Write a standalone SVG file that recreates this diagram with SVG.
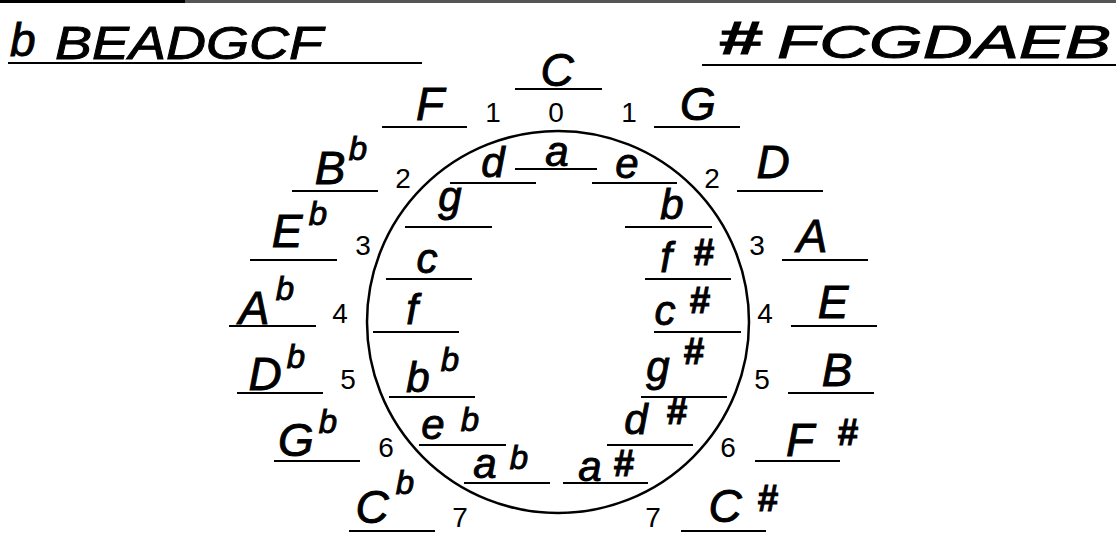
<svg xmlns="http://www.w3.org/2000/svg" width="1116" height="534" viewBox="0 0 1116 534">
<style>
.ul{stroke:#000;stroke-width:2;fill:none}
.hw{font-family:"Liberation Sans",Arial,sans-serif;font-style:italic;fill:#000;stroke:#000;stroke-width:0.9;text-anchor:middle}
.cap{font-size:46px}
.low{font-size:42px}
.sup{font-size:33px}
.sh{font-size:37px;font-weight:bold;font-style:normal}
.num{font-family:"Liberation Sans",Arial,sans-serif;font-size:28px;fill:#000;text-anchor:middle}
.hdr{font-family:"Liberation Sans",Arial,sans-serif;font-style:italic;font-size:46px;fill:#000;stroke:#000;stroke-width:0.9}
</style>
<rect width="1116" height="534" fill="#fff"/>
<g id="border">
<line x1="0" y1="1.5" x2="1116" y2="1.5" stroke="#555" stroke-width="3"/>
<line x1="0" y1="1.5" x2="185" y2="1.5" stroke="#000" stroke-width="3"/>
</g>
<g id="header-flats">
<text class="hdr" x="10" y="56">b</text>
<text class="hdr" x="55" y="59" textLength="268" lengthAdjust="spacingAndGlyphs">BEADGCF</text>
<line class="ul" x1="8" y1="63" x2="422" y2="63"/>
</g>
<g id="header-sharps">
<text class="hdr" x="718" y="54" textLength="44" lengthAdjust="spacingAndGlyphs" font-style="normal" font-weight="bold">#</text>
<text class="hdr" x="777" y="58" textLength="334" lengthAdjust="spacingAndGlyphs">FCGDAEB</text>
<line class="ul" x1="702" y1="65" x2="1116" y2="65"/>
</g>
<g id="connectors">
<circle cx="558" cy="322" r="191" fill="none" stroke="#000" stroke-width="2.5"/>
</g>
<g id="numbers">
<text class="num" x="556" y="122">0</text>
<text class="num" x="493" y="122">1</text>
<text class="num" x="629" y="122">1</text>
<text class="num" x="403" y="188">2</text>
<text class="num" x="712" y="188">2</text>
<text class="num" x="363" y="255">3</text>
<text class="num" x="757" y="255">3</text>
<text class="num" x="340" y="323">4</text>
<text class="num" x="765" y="323">4</text>
<text class="num" x="348" y="389">5</text>
<text class="num" x="762" y="389">5</text>
<text class="num" x="386" y="457">6</text>
<text class="num" x="728" y="457">6</text>
<text class="num" x="460" y="527">7</text>
<text class="num" x="653" y="527">7</text>
</g>
<g id="key-C"><text class="hw cap" x="557" y="86">C</text><line class="ul" x1="515" y1="89" x2="602" y2="89"/></g>
<g id="key-F"><text class="hw cap" x="430" y="120">F</text><line class="ul" x1="382" y1="127" x2="467" y2="127"/></g>
<g id="key-G"><text class="hw cap" x="698" y="120">G</text><line class="ul" x1="654" y1="127" x2="740" y2="127"/></g>
<g id="key-Bb"><text class="hw cap"><tspan x="330" y="184">B</tspan><tspan class="sup" x="358" y="160">b</tspan></text><line class="ul" x1="292" y1="191" x2="378" y2="191"/></g>
<g id="key-D"><text class="hw cap" x="773" y="178">D</text><line class="ul" x1="737" y1="191" x2="823" y2="191"/></g>
<g id="key-Eb"><text class="hw cap"><tspan x="287" y="247">E</tspan><tspan class="sup" x="318" y="225">b</tspan></text><line class="ul" x1="250" y1="260" x2="337" y2="260"/></g>
<g id="key-A"><text class="hw cap" x="812" y="252">A</text><line class="ul" x1="782" y1="260" x2="868" y2="260"/></g>
<g id="key-Ab"><text class="hw cap"><tspan x="254" y="324">A</tspan><tspan class="sup" x="285" y="300">b</tspan></text><line class="ul" x1="229" y1="326" x2="316" y2="326"/></g>
<g id="key-E"><text class="hw cap" x="833" y="318">E</text><line class="ul" x1="791" y1="326" x2="877" y2="326"/></g>
<g id="key-Db"><text class="hw cap"><tspan x="265" y="390">D</tspan><tspan class="sup" x="296" y="368">b</tspan></text><line class="ul" x1="237" y1="393" x2="323" y2="393"/></g>
<g id="key-B"><text class="hw cap" x="837" y="386">B</text><line class="ul" x1="788" y1="393" x2="874" y2="393"/></g>
<g id="key-Gb"><text class="hw cap"><tspan x="296" y="456">G</tspan><tspan class="sup" x="328" y="433">b</tspan></text><line class="ul" x1="274" y1="461" x2="360" y2="461"/></g>
<g id="key-Fsharp"><text class="hw cap"><tspan x="800" y="456">F</tspan><tspan class="sh" x="848" y="445">#</tspan></text><line class="ul" x1="755" y1="461" x2="840" y2="461"/></g>
<g id="key-Cb"><text class="hw cap"><tspan x="372" y="523">C</tspan><tspan class="sup" x="405" y="494">b</tspan></text><line class="ul" x1="349" y1="531" x2="435" y2="531"/></g>
<g id="key-Csharp"><text class="hw cap"><tspan x="725" y="522">C</tspan><tspan class="sh" x="768" y="511">#</tspan></text><line class="ul" x1="681" y1="531" x2="766" y2="531"/></g>
<g id="minor-a"><text class="hw low" x="557" y="166">a</text><line class="ul" x1="515" y1="169" x2="597" y2="169"/></g>
<g id="minor-d"><text class="hw low" x="493" y="177">d</text><line class="ul" x1="450" y1="183" x2="536" y2="183"/></g>
<g id="minor-e"><text class="hw low" x="627" y="178">e</text><line class="ul" x1="592" y1="183" x2="677" y2="183"/></g>
<g id="minor-g"><text class="hw low" x="450" y="211">g</text><line class="ul" x1="405" y1="227" x2="492" y2="227"/></g>
<g id="minor-b"><text class="hw low" x="672" y="219">b</text><line class="ul" x1="625" y1="227" x2="712" y2="227"/></g>
<g id="minor-c"><text class="hw low" x="427" y="273">c</text><line class="ul" x1="386" y1="279" x2="472" y2="279"/></g>
<g id="minor-fsharp"><text class="hw low"><tspan x="666" y="272">f</tspan><tspan class="sh" x="704" y="265">#</tspan></text><line class="ul" x1="645" y1="279" x2="731" y2="279"/></g>
<g id="minor-f"><text class="hw low" x="412" y="324">f</text><line class="ul" x1="373" y1="332" x2="459" y2="332"/></g>
<g id="minor-csharp"><text class="hw low"><tspan x="665" y="325">c</tspan><tspan class="sh" x="700" y="313">#</tspan></text><line class="ul" x1="654" y1="332" x2="741" y2="332"/></g>
<g id="minor-bb"><text class="hw low"><tspan x="418" y="392">b</tspan><tspan class="sup" x="450" y="371">b</tspan></text><line class="ul" x1="389" y1="397" x2="475" y2="397"/></g>
<g id="minor-gsharp"><text class="hw low"><tspan x="658" y="381">g</tspan><tspan class="sh" x="694" y="364">#</tspan></text><line class="ul" x1="641" y1="397" x2="727" y2="397"/></g>
<g id="minor-eb"><text class="hw low"><tspan x="433" y="439">e</tspan><tspan class="sup" x="470" y="431">b</tspan></text><line class="ul" x1="419" y1="445" x2="506" y2="445"/></g>
<g id="minor-dsharp"><text class="hw low"><tspan x="636" y="434">d</tspan><tspan class="sh" x="677" y="424">#</tspan></text><line class="ul" x1="607" y1="445" x2="693" y2="445"/></g>
<g id="minor-ab"><text class="hw low"><tspan x="485" y="478">a</tspan><tspan class="sup" x="519" y="469">b</tspan></text><line class="ul" x1="464" y1="483" x2="550" y2="483"/></g>
<g id="minor-asharp"><text class="hw low"><tspan x="590" y="481">a</tspan><tspan class="sh" x="624" y="476">#</tspan></text><line class="ul" x1="563" y1="483" x2="648" y2="483"/></g>
</svg>
